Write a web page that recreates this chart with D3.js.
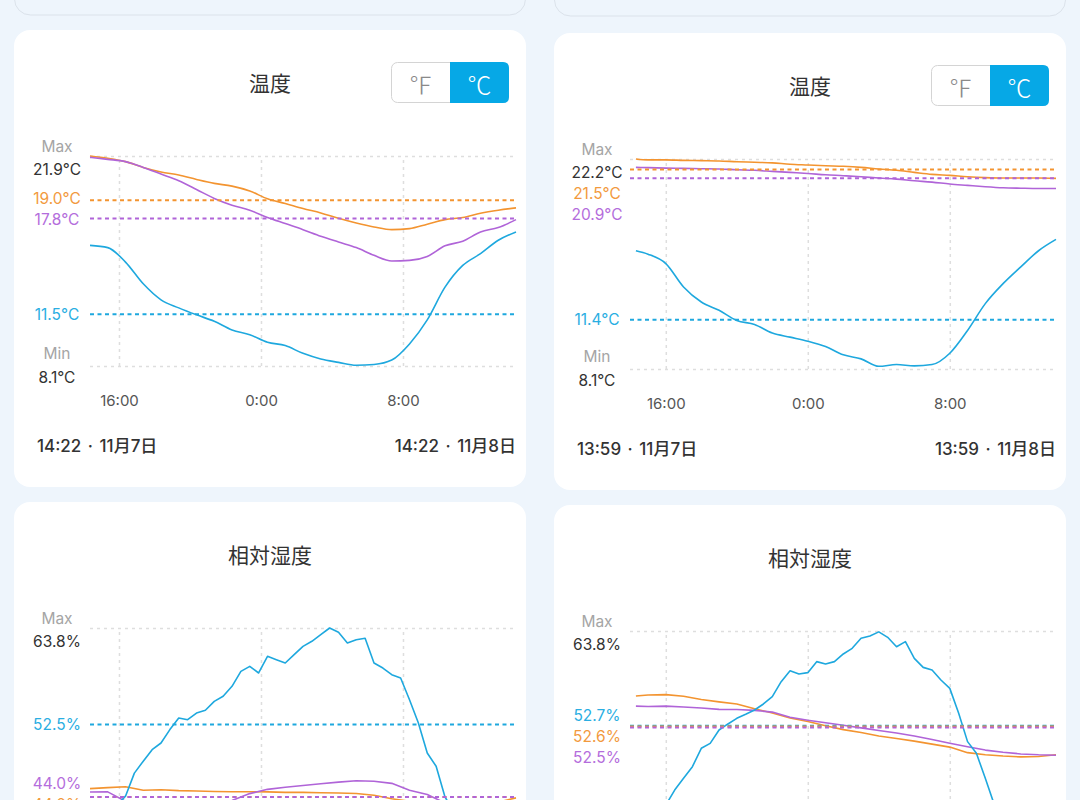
<!DOCTYPE html>
<html><head><meta charset="utf-8">
<script src="https://cdn.jsdelivr.net/npm/d3@7"></script>
<style>
html,body{margin:0;padding:0;background:#eef5fc;overflow:hidden}
svg{display:block}
text{font-family:Inter,"Noto Sans CJK JP",sans-serif}
</style></head><body><svg id="c" width="1080" height="800"></svg>
<script>
// ---------- DATA ----------
const leftHourTimes = ["11-07 14:22","11-07 15:22","11-07 16:22","11-07 17:22","11-07 18:22","11-07 19:22","11-07 20:22","11-07 21:22","11-07 22:22","11-07 23:22","11-08 00:22","11-08 01:22","11-08 02:22","11-08 03:22","11-08 04:22","11-08 05:22","11-08 06:22","11-08 07:22","11-08 08:22","11-08 09:22","11-08 10:22","11-08 11:22","11-08 12:22","11-08 13:22","11-08 14:22"];
const rightHourTimes = ["11-07 14:19","11-07 15:00","11-07 16:00","11-07 17:00","11-07 18:00","11-07 19:00","11-07 20:00","11-07 21:00","11-07 22:00","11-07 23:00","11-08 00:00","11-08 01:00","11-08 02:00","11-08 03:00","11-08 04:00","11-08 05:00","11-08 06:00","11-08 07:00","11-08 08:00","11-08 09:00","11-08 10:00","11-08 11:00","11-08 12:00","11-08 13:00","11-08 13:59"];
const leftHalfTimes = ["11-07 14:22","11-07 14:52","11-07 15:22","11-07 15:52","11-07 16:22","11-07 16:52","11-07 17:22","11-07 17:52","11-07 18:22","11-07 18:52","11-07 19:22","11-07 19:52","11-07 20:22","11-07 20:52","11-07 21:22","11-07 21:52","11-07 22:22","11-07 22:52","11-07 23:22","11-07 23:52","11-08 00:22","11-08 00:52","11-08 01:22","11-08 01:52","11-08 02:22","11-08 02:52","11-08 03:22","11-08 03:52","11-08 04:22","11-08 04:52","11-08 05:22","11-08 05:52","11-08 06:22","11-08 06:52","11-08 07:22","11-08 07:52","11-08 08:22","11-08 08:52","11-08 09:22","11-08 09:52","11-08 10:22","11-08 10:52","11-08 11:22","11-08 11:52","11-08 12:22","11-08 12:52","11-08 13:22","11-08 13:52","11-08 14:22"];
const rightHalfTimes = ["11-07 14:19","11-07 14:30","11-07 15:00","11-07 15:30","11-07 16:00","11-07 16:30","11-07 17:00","11-07 17:30","11-07 18:00","11-07 18:30","11-07 19:00","11-07 19:30","11-07 20:00","11-07 20:30","11-07 21:00","11-07 21:30","11-07 22:00","11-07 22:30","11-07 23:00","11-07 23:30","11-08 00:00","11-08 00:30","11-08 01:00","11-08 01:30","11-08 02:00","11-08 02:30","11-08 03:00","11-08 03:30","11-08 04:00","11-08 04:30","11-08 05:00","11-08 05:30","11-08 06:00","11-08 06:30","11-08 07:00","11-08 07:30","11-08 08:00","11-08 08:30","11-08 09:00","11-08 09:30","11-08 10:00","11-08 10:30","11-08 11:00","11-08 11:30","11-08 12:00","11-08 12:30","11-08 13:00","11-08 13:30","11-08 13:59"];

const tickTimes = ["11-07 16:00","11-08 00:00","11-08 08:00"];

// Temperature, left card (°C)
const ltOrange = [21.9,21.75,21.53,21.15,20.85,20.65,20.36,20.1,19.92,19.6,19.09,18.78,18.45,18.16,17.81,17.5,17.24,17.06,17.13,17.42,17.72,17.86,18.14,18.34,18.49];
const ltPurple = [21.81,21.68,21.53,21.15,20.71,20.27,19.7,19.11,18.67,18.34,17.86,17.46,17.06,16.63,16.25,15.88,15.37,15.0,15.04,15.3,16.0,16.3,16.91,17.2,17.72];
const ltBlue   = [16.03,15.88,14.93,13.5,12.45,11.92,11.46,11.04,10.47,10.16,9.66,9.44,8.93,8.56,8.34,8.15,8.2,8.49,9.55,11.13,13.28,14.71,15.48,16.36,16.91];
// Temperature, right card (°C)
const rtOrange = [22.2,22.14,22.14,22.11,22.09,22.07,22.02,21.98,21.94,21.85,21.8,21.75,21.71,21.64,21.53,21.44,21.3,21.17,21.1,21.01,20.95,20.92,20.92,20.92,20.9];
const rtPurple = [21.64,21.62,21.59,21.57,21.55,21.53,21.48,21.44,21.37,21.3,21.23,21.14,21.08,21.01,20.92,20.85,20.74,20.65,20.52,20.43,20.34,20.27,20.24,20.22,20.22];
const rtBlue   = [16.04,15.81,15.18,13.61,12.6,12.04,11.36,11.09,10.51,10.24,9.97,9.61,9.05,8.78,8.28,8.4,8.31,8.4,9.16,10.69,12.49,13.83,14.96,16.04,16.8];
// Relative humidity, left card (%)
const lhOrange = [44.98,45.1,45.2,44.8,44.85,44.75,44.7,44.65,44.62,44.62,44.6,44.55,44.55,44.5,44.48,44.42,44.2,43.8,43.5,43.2,43.0,42.9,43.1,43.4,43.9];
const lhPurple = [44.59,44.6,43.5,43.2,43.0,42.9,42.9,43.1,43.6,44.4,44.9,45.15,45.35,45.55,45.75,45.9,45.85,45.6,44.8,44.3,43.3,42.6,42.3,42.2,42.3];
const lhBlue   = [41.0,41.5,42.0,43.0,44.1,46.8,48.2,49.55,50.33,51.9,53.26,53.06,53.84,54.16,55.21,55.8,56.97,58.72,59.31,58.53,60.48,60.09,59.7,60.68,61.65,62.24,63.02,63.8,63.3,62.04,62.43,62.6,59.7,59.11,58.33,57.94,55.4,52.67,49.16,47.6,44.0,42.3,41.4,40.8,40.3,39.9,39.6,39.4,39.2];
// Relative humidity, right card (%)
const rhOrange = [56.19,56.3,56.35,56.15,55.78,55.5,55.25,54.7,54.2,53.6,53.2,52.7,52.25,51.9,51.5,51.2,50.9,50.55,50.2,49.55,49.3,49.15,49.05,49.1,49.3];
const rhPurple = [55.0,54.95,55.0,54.9,54.78,54.62,54.6,54.5,54.3,53.7,53.35,53.05,52.75,52.45,52.15,51.85,51.5,51.1,50.65,50.25,49.85,49.6,49.4,49.3,49.25];
const rhBlue   = [41.2,41.3,41.8,42.5,43.4,45.17,46.54,47.91,50.06,50.64,52.2,52.91,53.57,54.04,54.55,55.25,56.11,57.86,59.15,58.76,58.92,60.21,59.93,60.21,61.11,61.77,62.94,63.21,63.7,63.06,61.96,62.55,60.6,59.54,59.23,58.06,57.08,54.16,50.84,49.47,46.54,43.5,42.0,41.0,40.3,39.8,39.5,39.3,39.2];

// Max / Min / average reference values shown in the labels
const ltRange = [21.9, 8.1];  const ltRefs = [["orange",19.0],["purple",17.8],["blue",11.5]];
const rtRange = [22.2, 8.1];  const rtRefs = [["orange",21.5],["purple",20.9],["blue",11.4]];
const lhRange = [63.8, 39.2]; const lhRefs = [["blue",52.5],["purple",44.0],["orange",44.0]];
const rhRange = [63.8, 39.2]; const rhRefs = [["blue",52.7],["orange",52.6],["purple",52.5]];

const titles = ["温度","相対湿度"];
const leftWindow = ["11-07 14:22","11-08 14:22"];
const rightWindow = ["11-07 13:59","11-08 13:59"];
const leftDates = ["14:22 · 11月7日","14:22 · 11月8日"];
const rightDates = ["13:59 · 11月7日","13:59 · 11月8日"];

// ---------- STYLE ----------
const COL = {blue:"#1ea8de", orange:"#f39430", purple:"#b064d8"};
const LCOL = {blue:"#2aaee2", orange:"#f29a3e", purple:"#b46ddc"};
const BG = "#eef5fc";
const VIEW_H = 800;

const parseT = d3.timeParse("%m-%d %H:%M");
const svg = d3.select("#c");
svg.append("rect").attr("width",1080).attr("height",800).attr("fill",BG);

// partial cards at the top
[[14,-60,75],[554,-60,76]].forEach(([x,y,h])=>{
  svg.append("rect").attr("x",x+0.5).attr("y",y).attr("width",511).attr("height",h)
    .attr("rx",16).attr("fill",BG).attr("stroke","#dbe2ea").attr("stroke-width",1);
});

function drawCard(cfg){
  const cx = cfg.x, cy = cfg.y;
  const g = svg.append("g");
  const vis = yy => yy < VIEW_H + 6;   // skip texts that lie wholly below the window
  g.append("rect").attr("x",cx).attr("y",cy).attr("width",512).attr("height",457)
    .attr("rx",16).attr("fill","#fff");
  g.append("text").attr("x",cx+256).attr("y",cy+52).attr("text-anchor","middle")
    .attr("dominant-baseline","central").attr("font-size",21).attr("fill","#333")
    .style("font-family","'Noto Sans CJK JP'").text(cfg.title);

  if (cfg.toggle){
    const tx = cx+377, ty = cy+32, tw = 118, th = 41, r = 6, half = 59;
    g.append("rect").attr("x",tx+0.5).attr("y",ty+0.5).attr("width",tw-1).attr("height",th-1)
      .attr("rx",r).attr("fill","#fff").attr("stroke","#d4d4d4");
    const x0 = tx+half, x1 = tx+tw, y0 = ty, y1 = ty+th;
    g.append("path").attr("fill","#06a8e6")
      .attr("d",`M${x0},${y0}H${x1-r}Q${x1},${y0} ${x1},${y0+r}V${y1-r}Q${x1},${y1} ${x1-r},${y1}H${x0}Z`);
    g.append("text").attr("x",tx+half/2).attr("y",ty+th/2+1).attr("text-anchor","middle")
      .attr("dominant-baseline","central").attr("font-size",24).attr("font-weight",300).attr("fill","#8a8a8a")
      .style("font-family","'Noto Sans CJK JP'").text("℉");
    g.append("text").attr("x",tx+half+half/2).attr("y",ty+th/2+1).attr("text-anchor","middle")
      .attr("dominant-baseline","central").attr("font-size",24).attr("font-weight",300).attr("fill","#fff")
      .style("font-family","'Noto Sans CJK JP'").text("℃");
  }

  const px0 = cx+76, px1 = cx+502, py0 = cy+126, py1 = cy+336;
  const x = d3.scaleTime().domain(cfg.window.map(parseT)).range([px0,px1]);
  const y = d3.scaleLinear().domain([cfg.range[1], cfg.range[0]]).range([py1,py0]);

  // gridlines (horizontal at Max/Min)
  const yAx = g.append("g").attr("transform",`translate(${px0},0)`)
    .call(d3.axisLeft(y).tickValues(cfg.range).tickSize(-(px1-px0)).tickFormat(""));
  yAx.select(".domain").remove();
  yAx.selectAll("line").attr("stroke","#dedede").attr("stroke-width",1.5).attr("stroke-dasharray","3,4");

  // vertical gridlines + time ticks
  const xAx = g.append("g").attr("transform",`translate(0,${py1})`)
    .call(d3.axisBottom(x).tickValues(tickTimes.map(parseT)).tickFormat(d3.timeFormat("%-H:%M"))
      .tickSize(-(py1-py0)).tickPadding(29));
  xAx.select(".domain").remove();
  xAx.selectAll("line").attr("stroke","#dedede").attr("stroke-width",1.5).attr("stroke-dasharray","3,4");
  xAx.selectAll("text").attr("font-size",15).attr("fill","#555");
  if (!vis(py1+30)) xAx.selectAll("text").remove();

  // data lines
  const line = d3.line().x(d=>x(d[0])).y(d=>y(d[1])).curve(cfg.curve);
  cfg.series.forEach(s=>{
    const pts = s.times.map((t,i)=>[parseT(t), s.values[i]]);
    g.append("path").attr("d", line(pts)).attr("fill","none")
      .attr("stroke",COL[s.color]).attr("stroke-width",1.6).attr("stroke-linejoin","round");
  });

  // reference (average) lines
  ["blue","orange","purple"].forEach(c=>{
    cfg.refs.filter(r=>r[0]===c).forEach(r=>{
      g.append("line").attr("x1",px0).attr("x2",px1).attr("y1",y(r[1])).attr("y2",y(r[1]))
        .attr("stroke",COL[c]).attr("stroke-width",2).attr("stroke-dasharray","4,3.5");
    });
  });

  // labels
  const lx = cx+43, fmt = d3.format(".1f"), gap = 21;
  const lab = (txt, yy, fill) => { if (vis(yy)) g.append("text").attr("x",lx).attr("y",yy).attr("text-anchor","middle")
      .attr("dominant-baseline","central").attr("font-size",15.5).attr("fill",fill).text(txt); };
  const maxY = py0+13, minTxtY = py1-12.5;
  lab("Max", py0-9.5, "#a5a5a5");
  lab(fmt(cfg.range[0])+cfg.unit, maxY, "#333");
  lab("Min", minTxtY, "#a5a5a5");
  lab(fmt(cfg.range[1])+cfg.unit, py1+11, "#333");
  // collision avoidance: the first pair of a cluster splits the overlap, later ones are pushed down
  const pos = cfg.refs.map(r=>y(r[1]));
  let prevY = maxY, prevMovable = false, prevPushed = false;
  for (let i=0;i<pos.length;i++){
    let d = pos[i], pushed = false;
    if (d - prevY < gap){
      if (prevMovable && !prevPushed){
        const ov = gap - (d - prevY);
        pos[i-1] = Math.max(pos[i-1] - ov/2, (i>1 ? pos[i-2] : maxY) + gap);
        prevY = pos[i-1];
      }
      d = prevY + gap; pushed = true;
    }
    pos[i] = d; prevY = d; prevMovable = true; prevPushed = pushed;
  }
  let next = minTxtY;
  for (let i=pos.length-1;i>=0;i--){ pos[i] = Math.min(pos[i], next-gap); next = pos[i]; }
  cfg.refs.forEach((r,i)=> lab(fmt(r[1])+cfg.unit, pos[i], LCOL[r[0]]));

  // date labels
  if (vis(py1+72)) {
    g.append("text").attr("x",cx+23).attr("y",py1+80).attr("dominant-baseline","central")
      .attr("font-size",17).attr("font-weight",500).attr("fill","#333").attr("word-spacing",2).text(cfg.dates[0]);
    g.append("text").attr("x",cx+502).attr("y",py1+80).attr("dominant-baseline","central").attr("text-anchor","end")
      .attr("font-size",17).attr("font-weight",500).attr("fill","#333").attr("word-spacing",2).text(cfg.dates[1]);
  }
}

drawCard({x:14,y:30,title:titles[0],toggle:true,unit:"°C",window:leftWindow,range:ltRange,refs:ltRefs,dates:leftDates,
  curve:d3.curveMonotoneX,
  series:[{color:"orange",times:leftHourTimes,values:ltOrange},{color:"purple",times:leftHourTimes,values:ltPurple},{color:"blue",times:leftHourTimes,values:ltBlue}]});
drawCard({x:554,y:33,title:titles[0],toggle:true,unit:"°C",window:rightWindow,range:rtRange,refs:rtRefs,dates:rightDates,
  curve:d3.curveMonotoneX,
  series:[{color:"orange",times:rightHourTimes,values:rtOrange},{color:"purple",times:rightHourTimes,values:rtPurple},{color:"blue",times:rightHourTimes,values:rtBlue}]});
drawCard({x:14,y:502,title:titles[1],toggle:false,unit:"%",window:leftWindow,range:lhRange,refs:lhRefs,dates:leftDates,
  curve:d3.curveLinear,
  series:[{color:"orange",times:leftHourTimes,values:lhOrange},{color:"purple",times:leftHourTimes,values:lhPurple},{color:"blue",times:leftHalfTimes,values:lhBlue}]});
drawCard({x:554,y:505,title:titles[1],toggle:false,unit:"%",window:rightWindow,range:rhRange,refs:rhRefs,dates:rightDates,
  curve:d3.curveLinear,
  series:[{color:"orange",times:rightHourTimes,values:rhOrange},{color:"purple",times:rightHourTimes,values:rhPurple},{color:"blue",times:rightHalfTimes,values:rhBlue}]});
</script></body></html>
